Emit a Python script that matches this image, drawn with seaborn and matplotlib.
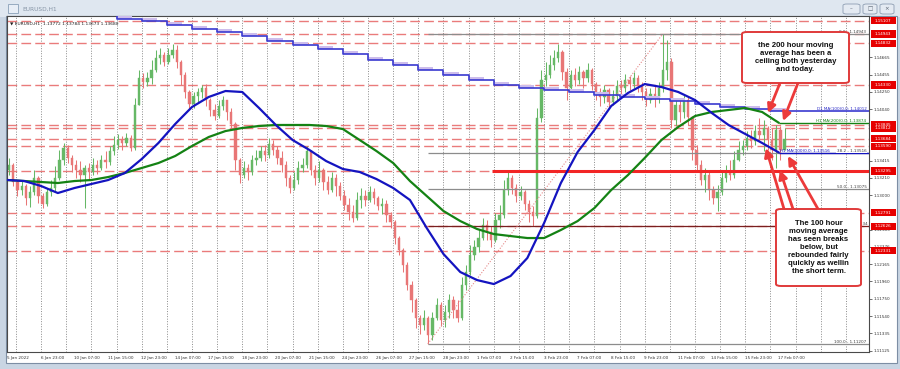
import numpy as np
import pandas as pd
import matplotlib
matplotlib.use("Agg")
import matplotlib.pyplot as plt
import matplotlib.transforms as mtransforms
from matplotlib.patches import Rectangle, FancyBboxPatch
import seaborn as sns

# ---------------- data (EURUSD H1, 4-hour groups) ----------------
first_open = 1.1331
close = [1.1337, 1.1316, 1.1306, 1.1311, 1.1297, 1.1304, 1.1321, 1.1299, 1.1289, 1.1304,
         1.1309, 1.1321, 1.1343, 1.1357, 1.1345, 1.1337, 1.1331, 1.1325, 1.1333, 1.1328,
         1.1337, 1.1333, 1.1343, 1.1340, 1.1353, 1.1361, 1.1367, 1.1363, 1.1369, 1.1357,
         1.1409, 1.1442, 1.1437, 1.1442, 1.1451, 1.1466, 1.1469, 1.1461, 1.1469, 1.1475,
         1.1461, 1.1445, 1.1425, 1.1410, 1.1420, 1.1425, 1.1429, 1.1415, 1.1403, 1.1396,
         1.1408, 1.1415, 1.1400, 1.1386, 1.1343, 1.1325, 1.1333, 1.1328, 1.1343, 1.1345,
         1.1353, 1.1348, 1.1362, 1.1355, 1.1345, 1.1337, 1.1321, 1.1309, 1.1318, 1.1333,
         1.1337, 1.1353, 1.1331, 1.1321, 1.1331, 1.1316, 1.1306, 1.1321, 1.1311, 1.1299,
         1.1288, 1.1280, 1.1273, 1.1294, 1.1299, 1.1294, 1.1304, 1.1297, 1.1287, 1.1290,
         1.1276, 1.1268, 1.1248, 1.1234, 1.1216, 1.1192, 1.1174, 1.1152, 1.1143, 1.1152,
         1.1131, 1.1152, 1.1168, 1.1150, 1.1159, 1.1174, 1.1162, 1.1152, 1.1192, 1.1207,
         1.1228, 1.1237, 1.1249, 1.1264, 1.1256, 1.1246, 1.1270, 1.1276, 1.1306, 1.1321,
         1.1309, 1.1299, 1.1304, 1.1290, 1.1280, 1.1275, 1.1393, 1.1439, 1.1445, 1.1457,
         1.1466, 1.1473, 1.1449, 1.1429, 1.1445, 1.1439, 1.1449, 1.1442, 1.1451, 1.1434,
         1.1425, 1.1418, 1.1427, 1.1413, 1.1420, 1.1432, 1.1429, 1.1439, 1.1434, 1.1442,
         1.1432, 1.1425, 1.1415, 1.1422, 1.1418, 1.1429, 1.1451, 1.1461, 1.1391, 1.1409,
         1.1400, 1.1415, 1.1394, 1.1355, 1.1337, 1.1318, 1.1325, 1.1306, 1.1297, 1.1304,
         1.1321, 1.1328, 1.1325, 1.1343, 1.1355, 1.1360, 1.1369, 1.1365, 1.1377, 1.1373,
         1.1381, 1.1367, 1.1355, 1.1379, 1.1355, 1.1368]
high = [1.1345, 1.1339, 1.1318, 1.1318, 1.1314, 1.1311, 1.1331, 1.1323, 1.1303, 1.1309,
        1.1318, 1.1335, 1.1355, 1.1363, 1.1361, 1.1349, 1.1343, 1.1341, 1.1337, 1.1339,
        1.1345, 1.1343, 1.1349, 1.1353, 1.1359, 1.1371, 1.1374, 1.1372, 1.1375, 1.1373,
        1.1417, 1.1451, 1.1447, 1.1449, 1.1463, 1.1475, 1.1478, 1.1473, 1.1478, 1.1482,
        1.1481, 1.1463, 1.1449, 1.1427, 1.1425, 1.1429, 1.1433, 1.1434, 1.1417, 1.1410,
        1.1415, 1.1420, 1.1415, 1.1405, 1.1388, 1.1345, 1.1341, 1.1338, 1.1349, 1.1355,
        1.1360, 1.1361, 1.1369, 1.1367, 1.1360, 1.1353, 1.1341, 1.1325, 1.1328, 1.1341,
        1.1345, 1.1359, 1.1355, 1.1337, 1.1341, 1.1333, 1.1323, 1.1328, 1.1326, 1.1316,
        1.1306, 1.1297, 1.1288, 1.1304, 1.1309, 1.1306, 1.1311, 1.1309, 1.1299, 1.1297,
        1.1294, 1.1280, 1.1270, 1.1251, 1.1236, 1.1220, 1.1196, 1.1176, 1.1156, 1.1162,
        1.1154, 1.1159, 1.1176, 1.1171, 1.1168, 1.1181, 1.1179, 1.1174, 1.1201, 1.1216,
        1.1240, 1.1246, 1.1258, 1.1273, 1.1270, 1.1263, 1.1279, 1.1288, 1.1318, 1.1329,
        1.1325, 1.1314, 1.1311, 1.1306, 1.1294, 1.1287, 1.1405, 1.1451, 1.1461, 1.1469,
        1.1475, 1.1482, 1.1475, 1.1454, 1.1451, 1.1454, 1.1456, 1.1451, 1.1459, 1.1454,
        1.1437, 1.1429, 1.1433, 1.1429, 1.1427, 1.1439, 1.1439, 1.1446, 1.1444, 1.1449,
        1.1445, 1.1437, 1.1429, 1.1429, 1.1432, 1.1437, 1.1494, 1.1487, 1.1466, 1.1417,
        1.1415, 1.1421, 1.1418, 1.1396, 1.1361, 1.1343, 1.1333, 1.1328, 1.1311, 1.1312,
        1.1331, 1.1337, 1.1343, 1.1353, 1.1365, 1.1367, 1.1377, 1.1379, 1.1385, 1.1393,
        1.1391, 1.1384, 1.1381, 1.1385, 1.1384, 1.1381]
low = [1.1325, 1.1311, 1.1299, 1.1300, 1.1288, 1.1286, 1.1300, 1.1291, 1.1285, 1.1287,
       1.1299, 1.1304, 1.1318, 1.1337, 1.1339, 1.1328, 1.1321, 1.1316, 1.1285, 1.1318,
       1.1325, 1.1326, 1.1331, 1.1333, 1.1336, 1.1349, 1.1356, 1.1355, 1.1360, 1.1353,
       1.1355, 1.1409, 1.1430, 1.1432, 1.1434, 1.1449, 1.1458, 1.1456, 1.1458, 1.1466,
       1.1454, 1.1433, 1.1417, 1.1403, 1.1405, 1.1413, 1.1417, 1.1408, 1.1396, 1.1391,
       1.1393, 1.1403, 1.1391, 1.1381, 1.1331, 1.1315, 1.1321, 1.1318, 1.1325, 1.1336,
       1.1341, 1.1341, 1.1345, 1.1348, 1.1338, 1.1328, 1.1311, 1.1303, 1.1306, 1.1314,
       1.1328, 1.1333, 1.1325, 1.1312, 1.1316, 1.1306, 1.1302, 1.1304, 1.1299, 1.1294,
       1.1282, 1.1270, 1.1268, 1.1270, 1.1285, 1.1287, 1.1292, 1.1290, 1.1282, 1.1278,
       1.1268, 1.1260, 1.1241, 1.1228, 1.1207, 1.1186, 1.1159, 1.1140, 1.1133, 1.1137,
       1.1121, 1.1125, 1.1150, 1.1142, 1.1141, 1.1152, 1.1152, 1.1147, 1.1150, 1.1186,
       1.1204, 1.1222, 1.1232, 1.1246, 1.1246, 1.1237, 1.1244, 1.1261, 1.1273, 1.1300,
       1.1302, 1.1292, 1.1294, 1.1282, 1.1268, 1.1263, 1.1273, 1.1389, 1.1432, 1.1442,
       1.1451, 1.1461, 1.1439, 1.1415, 1.1427, 1.1432, 1.1434, 1.1430, 1.1437, 1.1427,
       1.1415, 1.1408, 1.1411, 1.1406, 1.1409, 1.1415, 1.1422, 1.1425, 1.1427, 1.1430,
       1.1425, 1.1415, 1.1408, 1.1411, 1.1406, 1.1411, 1.1425, 1.1439, 1.1381, 1.1384,
       1.1389, 1.1393, 1.1385, 1.1343, 1.1328, 1.1312, 1.1304, 1.1294, 1.1290, 1.1281,
       1.1300, 1.1316, 1.1318, 1.1321, 1.1341, 1.1349, 1.1355, 1.1357, 1.1361, 1.1365,
       1.1353, 1.1355, 1.1343, 1.1333, 1.1343, 1.1357]

# moving averages, one reading every 16 hourly bars
ma100_h1 = [1.13184, 1.13172, 1.13112, 1.13027, 1.13088, 1.13136, 1.13184, 1.13269, 1.13437, 1.13631,
            1.13860, 1.14065, 1.14186, 1.14258, 1.14246, 1.14053, 1.13848, 1.13667, 1.13547, 1.13413,
            1.13317, 1.13281, 1.13196, 1.13088, 1.12943, 1.12605, 1.12291, 1.12074, 1.11977, 1.11929,
            1.12026, 1.12243, 1.12665, 1.13148, 1.13522, 1.13787, 1.14077, 1.14234, 1.14342, 1.14306,
            1.14246, 1.14149, 1.13993, 1.13848, 1.13739, 1.13631, 1.13516]
ma200_h1 = [1.13184, 1.13172, 1.13160, 1.13148, 1.13172, 1.13184, 1.13220, 1.13269, 1.13329, 1.13389,
            1.13474, 1.13594, 1.13703, 1.13775, 1.13812, 1.13836, 1.13848, 1.13848, 1.13848, 1.13836,
            1.13799, 1.13667, 1.13534, 1.13389, 1.13172, 1.12991, 1.12810, 1.12689, 1.12593, 1.12532,
            1.12508, 1.12484, 1.12484, 1.12581, 1.12689, 1.12846, 1.13063, 1.13244, 1.13450, 1.13667,
            1.13824, 1.13956, 1.14005, 1.14029, 1.14053, 1.14005, 1.13874]
# daily MA(100), one value per day (first value is above the visible range)
ma100_d1 = [1.15200, 1.15127, 1.15099, 1.15055, 1.15010, 1.14967, 1.14922, 1.14865, 1.14813, 1.14759,
            1.14699, 1.14632, 1.14572, 1.14512, 1.14451, 1.14391, 1.14331, 1.14295, 1.14270, 1.14240,
            1.14210, 1.14186, 1.14162, 1.14138, 1.14102, 1.14065, 1.14041, 1.14012]

level_lines = [1.15107, 1.14943, 1.14832, 1.14330, 1.13845, 1.13812, 1.13684, 1.13590,
               1.13295, 1.12791, 1.12626, 1.12331]
strong_level = 1.13295
fib_high, fib_low = 1.14943, 1.11207
fib_pcts = [0.0, 38.2, 50.0, 61.8, 100.0]
price_ticks = [1.14665, 1.14455, 1.14250, 1.14040, 1.13415, 1.13210, 1.13000, 1.12585,
               1.12376, 1.12165, 1.11960, 1.11750, 1.11540, 1.11335, 1.11125]
time_labels = ["5 Jan 2022", "6 Jan 23:00", "10 Jan 07:00", "11 Jan 15:00", "12 Jan 23:00",
               "14 Jan 07:00", "17 Jan 15:00", "18 Jan 23:00", "20 Jan 07:00", "21 Jan 15:00",
               "24 Jan 23:00", "26 Jan 07:00", "27 Jan 15:00", "28 Jan 23:00", "1 Feb 07:00",
               "2 Feb 15:00", "3 Feb 23:00", "7 Feb 07:00", "8 Feb 15:00", "9 Feb 23:00",
               "11 Feb 07:00", "14 Feb 15:00", "15 Feb 23:00", "17 Feb 07:00"]
header_text = "EURUSD,H1  1.13772 1.13784 1.13673 1.13680"
note_200 = "the 200 hour moving\naverage has been a\nceiling both yesterday\nand today."
note_100 = "The 100 hour\nmoving average\nhas seen breaks\nbelow, but\nrebounded fairly\nquickly as wellin\nthe short term."

# ---------------- layout ----------------
W, H = 900, 369
PXB = 1.048                 # pixels per hourly bar
AXL, AXR, AXT, AXB = 7, 869, 16, 352
CB = 4                      # hourly bars per drawn candle
MA_STEP = 16
D1_FIRST, D1_STEP = 80, 24
GRID_FIRST, GRID_STEP = 8, 24
LABEL_STEP = 32
STRONG_START = 462
FIB_T0, FIB_T1 = 401, 625
YLIM = (1.11109, 1.15163)
XMAX = -0.5 + (AXR - AXL) / PXB
PRICE_PER_PX = (YLIM[1] - YLIM[0]) / (AXB - AXT)

sns.set_style("white")
plt.rcParams["font.family"] = ["DejaVu Sans"]

fig = plt.figure(figsize=(W / 100, H / 100), dpi=100)
fig.patch.set_facecolor("#c9d5e3")

def fr(x0, y0, x1, y1):
    return (x0 / W, 1 - y1 / H, (x1 - x0) / W, (y1 - y0) / H)

# window chrome
bx = fr(0, 0, 900, 17)
fig.patches.append(Rectangle(bx[:2], bx[2], bx[3], transform=fig.transFigure, fc="#dfe7f0", ec="none", zorder=-3))
cl = fr(6, 16, 897, 363)
fig.patches.append(Rectangle(cl[:2], cl[2], cl[3], transform=fig.transFigure, fc="white", ec="#7d8ea4", lw=0.8, zorder=-2))
ic = fr(8, 4, 18, 13)
fig.patches.append(Rectangle(ic[:2], ic[2], ic[3], transform=fig.transFigure, fc="#e8eef6", ec="#8aa0b8", lw=0.6, zorder=-1))
fig.text(22 / W, 1 - 9 / H, "EURUSD,H1", fontsize=4.2, color="#8795a6", va="center", ha="left")
for (b0, b1, sym) in [(843, 860, "\u2013"), (863, 877, "\u25a1"), (880, 894, "\u00d7")]:
    r = fr(b0, 4, b1, 14)
    fig.patches.append(FancyBboxPatch(r[:2], r[2], r[3], boxstyle="round,pad=0,rounding_size=0.004",
                                      transform=fig.transFigure, fc="#e4eaf2", ec="#8d9db2", lw=0.6, zorder=-1))
    fig.text((b0 + b1) / 2 / W, 1 - 9 / H, sym, fontsize=4, color="#555f6e", ha="center", va="center")

ax = fig.add_axes([AXL / W, 1 - AXB / H, (AXR - AXL) / W, (AXB - AXT) / H])
ax.set_zorder(1)
ax.set_facecolor("white")
ax.set_xlim(-0.5, XMAX)
ax.set_ylim(*YLIM)

# vertical dotted grid
grid_bars = np.arange(GRID_FIRST, XMAX, GRID_STEP)
ax.vlines(grid_bars, YLIM[0], YLIM[1], colors="#8a8a8a", linestyles=(0, (1, 1.6)), lw=0.7, zorder=0)

# horizontal support / resistance lines
ax.hlines(level_lines, -0.5, XMAX, colors="#ea7b7b", linestyles=(0, (7, 3)), lw=1.0, zorder=1)

# candles
n = len(close)
opens = [first_open] + close[:-1]
df = pd.DataFrame({"bar": np.arange(n) * CB + (CB - 1) / 2, "open": opens, "close": close,
                   "high": high, "low": low})
df["high"] = df[["high", "open", "close"]].max(axis=1)
df["low"] = df[["low", "open", "close"]].min(axis=1)
up = df["close"] >= df["open"]
col = np.where(up, "#66b866", "#e87676")
ax.vlines(df["bar"], df["low"], df["high"], colors=col, lw=0.75, zorder=2)
body_lo = df[["open", "close"]].min(axis=1)
body_h = (df["close"] - df["open"]).abs().clip(lower=0.00004)
ax.bar(df["bar"], body_h, bottom=body_lo, width=CB * 0.55, color=col, edgecolor=col, lw=0.3, zorder=2)

# fibonacci retracement
fib_prices = [fib_high - p / 100 * (fib_high - fib_low) for p in fib_pcts]
for p, v in zip(fib_pcts, fib_prices):
    c = "#7a1f1f" if p == 61.8 else "#8c8c8c"
    ax.hlines(v, FIB_T0, XMAX, colors=c, lw=0.9, zorder=2.5)
ax.plot([FIB_T0, FIB_T1], [fib_low, fib_high], color="#e58a8a", ls=(0, (1, 1.5)), lw=0.8, zorder=2.5)

# strong level
ax.hlines(strong_level, STRONG_START, XMAX, colors="#f22525", lw=2.2, zorder=2.6)

# moving averages
mdf = pd.DataFrame({"bar": np.arange(len(ma100_h1)) * MA_STEP, "ma100": ma100_h1, "ma200": ma200_h1})
sns.lineplot(data=mdf, x="bar", y="ma200", ax=ax, color="#148214", lw=1.6, zorder=3)
sns.lineplot(data=mdf, x="bar", y="ma100", ax=ax, color="#1414c0", lw=1.6, zorder=3.1)
last_bar = mdf["bar"].iloc[-1]
ax.hlines(ma200_h1[-1], last_bar, XMAX, colors="#148214", lw=1.0, zorder=3)
ax.hlines(ma100_h1[-1], last_bar, XMAX, colors="#1414c0", lw=1.0, zorder=3)

d1_bars = np.arange(len(ma100_d1)) * D1_STEP + D1_FIRST
# light lavender shading that sits just above each daily step
for b, v in zip(d1_bars[1:], ma100_d1[1:]):
    ax.add_patch(Rectangle((b, v), D1_STEP * 0.6, 3.0 * PRICE_PER_PX, fc="#cdbdec", ec="none", zorder=2.7))
d1_x = np.append(d1_bars, XMAX)
d1_y = np.append(ma100_d1, ma100_d1[-1])
ax.step(d1_x, d1_y, where="post", color="#3a3ad0", lw=1.2, zorder=2.8)

# labels for indicator lines
tb = mtransforms.blended_transform_factory(ax.transAxes, ax.transData)
ax.text(0.997, ma100_d1[-1], "D1 MA(100)0.0: %.5f" % ma100_d1[-1], transform=tb, ha="right", va="bottom",
        fontsize=3.0, color="#2c2cc8", zorder=4)
ax.text(0.997, ma200_h1[-1], "H1 MA(200)0.0: %.5f" % ma200_h1[-1], transform=tb, ha="right", va="bottom",
        fontsize=3.0, color="#148214", zorder=4)
ax.text(0.955, ma100_h1[-1], "H1 MA(100)0.0: %.5f" % ma100_h1[-1], transform=tb, ha="right", va="bottom",
        fontsize=3.0, color="#1414c0", zorder=4)
for p, v in zip(fib_pcts, fib_prices):
    if p == 61.8:
        continue
    ax.text(0.997, v, "%.1f - %.5f" % (p, v), transform=tb, ha="right", va="bottom", fontsize=3.0,
            color="#404040", zorder=4.1,
            bbox=dict(boxstyle="square,pad=0.05", fc="white", ec="none") if p == 38.2 else None)
# 61.8 label sits mostly behind the lower callout; only its tail shows
v618 = fib_prices[fib_pcts.index(61.8)]
ax.text(0.9995, v618, "%.5f" % v618, transform=tb, ha="right", va="bottom", fontsize=3.0,
        color="#404040", zorder=4.1)

# header text
ax.text(0.004, 0.985, "\u25bc " + header_text, transform=ax.transAxes, fontsize=3.2, color="#202020",
        ha="left", va="top", zorder=4)

# axes styling
for s in ax.spines.values():
    s.set_color("#4a4a4a")
    s.set_linewidth(0.8)
ax.yaxis.tick_right()
ax.set_yticks(price_ticks)
ax.set_yticklabels(["%.5f" % t for t in price_ticks])
ax.set_xticks(np.arange(len(time_labels)) * LABEL_STEP - 0.5)
ax.set_xticklabels(time_labels, ha="left")
ax.tick_params(axis="both", labelsize=3.0, length=2, width=0.5, colors="#333333", pad=1.2)
ax.set_xlabel("")
ax.set_ylabel("")

# red price boxes on the axis
box_w = 25 / (AXR - AXL)
box_h = 7.5 * PRICE_PER_PX
for v in level_lines:
    ax.add_patch(Rectangle((1.002, v - box_h / 2), box_w, box_h, transform=tb, fc="#e60000",
                           ec="none", clip_on=False, zorder=5))
    ax.text(1.002 + box_w / 2, v, "%.5f" % v, transform=tb, ha="center", va="center", fontsize=3.0,
            color="white", clip_on=False, zorder=6)

# callouts
def callout(x0, y0, x1, y1, text):
    a0 = ((x0 - AXL) / (AXR - AXL), (AXB - y1) / (AXB - AXT))
    w = (x1 - x0) / (AXR - AXL)
    h = (y1 - y0) / (AXB - AXT)
    ax.add_patch(FancyBboxPatch(a0, w, h, boxstyle="round,pad=0,rounding_size=0.006", transform=ax.transAxes,
                                fc="white", ec="#e03a3a", lw=1.4, zorder=7, clip_on=False))
    ax.text(a0[0] + w / 2, a0[1] + h / 2, text, transform=ax.transAxes, ha="center", va="center",
            fontsize=5.6, fontweight="bold", color="#111111", linespacing=1.18, zorder=8,
            family=["Liberation Sans", "DejaVu Sans"])

def arrow(px, py, bar, price):
    ax.annotate("", xy=(bar, price), xycoords="data",
                xytext=((px - AXL) / (AXR - AXL), (AXB - py) / (AXB - AXT)), textcoords="axes fraction",
                arrowprops=dict(arrowstyle="-|>,head_length=0.5,head_width=0.25", color="#ec3a3a", lw=2.0,
                                shrinkA=0, shrinkB=0), zorder=6.5)

arrow(780, 83, 725.6, 1.13993)
arrow(798, 83, 740.0, 1.13896)
arrow(784, 209, 723.7, 1.13570)
arrow(793, 209, 737.0, 1.13305)
arrow(818, 209, 744.7, 1.13474)
callout(742, 32, 849, 83, note_200)
callout(776, 209, 861, 286, note_100)

fig.savefig("out.png", dpi=100)
